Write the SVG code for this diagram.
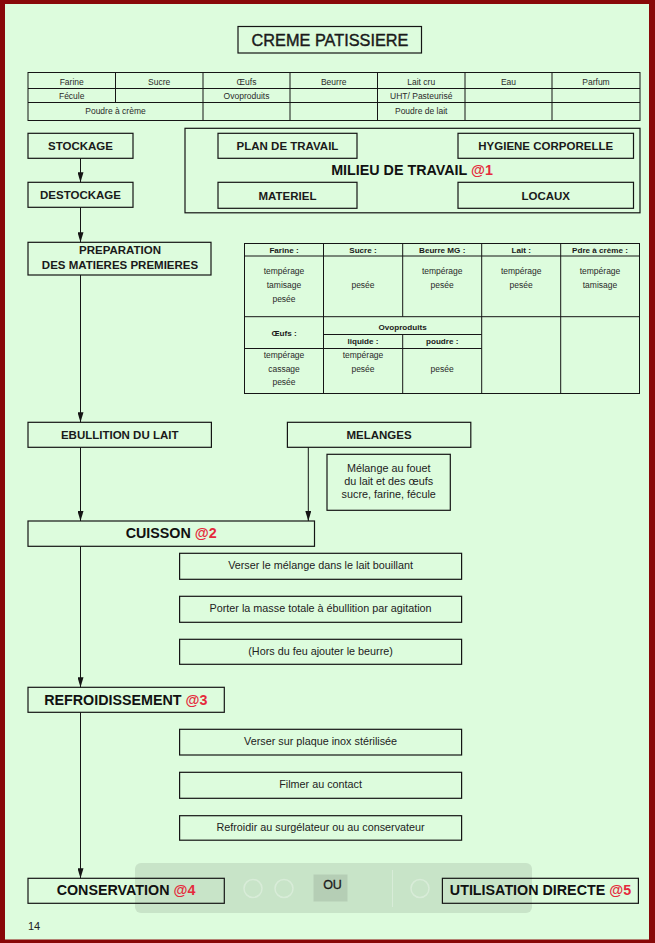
<svg xmlns="http://www.w3.org/2000/svg" width="655" height="943" viewBox="0 0 655 943">
<style>
.bx{fill:none;stroke:#151515;stroke-width:1.2}
.tb{fill:none;stroke:#151515;stroke-width:1}
.ln{stroke:#151515;stroke-width:1}
.lb{font-family:"Liberation Sans",Arial,sans-serif;font-weight:bold;font-size:11.5px;fill:#1a1a1a;text-anchor:middle}
.big{font-family:"Liberation Sans",Arial,sans-serif;font-weight:bold;font-size:14.3px;fill:#111;text-anchor:middle}
.sm{font-family:"Liberation Sans",Arial,sans-serif;font-size:8.5px;fill:#2a2a2a;text-anchor:middle}
.smb{font-family:"Liberation Sans",Arial,sans-serif;font-weight:bold;font-size:8.1px;fill:#1a1a1a;text-anchor:middle}
.st{font-family:"Liberation Sans",Arial,sans-serif;font-size:10.8px;fill:#222;text-anchor:middle}
.red{fill:#e52a3c}
.arr{stroke:#151515;stroke-width:1;fill:none;marker-end:url(#ah)}
</style>
<defs>
<marker id="ah" markerUnits="userSpaceOnUse" markerWidth="10" markerHeight="6" refX="10" refY="3" orient="auto">
<path d="M0,0 L10,3 L0,6 z" fill="#151515"/>
</marker>
</defs>
<rect x="0" y="0" width="655" height="943" fill="#880808"/>
<rect x="5" y="4" width="644" height="935.5" fill="#ddfcdd"/>

<!-- viewer overlay -->
<g id="overlay">
<rect x="135" y="863" width="397" height="50" rx="6" fill="#8a9a8a" opacity="0.25"/>
<rect x="313.5" y="874.5" width="34" height="27" fill="#8a9a8a" opacity="0.3"/>
<circle cx="253" cy="888.5" r="9" fill="none" stroke="#ffffff" stroke-opacity="0.3" stroke-width="1.5"/>
<circle cx="284" cy="888.5" r="9" fill="none" stroke="#ffffff" stroke-opacity="0.3" stroke-width="1.5"/>
<circle cx="420" cy="888.5" r="9" fill="none" stroke="#ffffff" stroke-opacity="0.3" stroke-width="1.5"/>
<line x1="392.5" y1="870" x2="392.5" y2="907" stroke="#ffffff" stroke-opacity="0.3"/>
</g>

<g id="title">
<rect class="bx" x="238" y="26.5" width="183.5" height="26.5"/>
<text x="330" y="45.5" font-family="Liberation Sans,Arial,sans-serif" font-size="16.3" fill="#1a1a1a" stroke="#1a1a1a" stroke-width="0.4" text-anchor="middle">CREME PATISSIERE</text>
</g>

<g id="ingredients">
<rect class="tb" x="28" y="72.5" width="612" height="48"/>
<line class="ln" x1="28" y1="88.5" x2="640" y2="88.5"/>
<line class="ln" x1="28" y1="102.5" x2="640" y2="102.5"/>
<line class="ln" x1="115.5" y1="72.5" x2="115.5" y2="102.5"/>
<line class="ln" x1="203" y1="72.5" x2="203" y2="120.5"/>
<line class="ln" x1="290" y1="72.5" x2="290" y2="120.5"/>
<line class="ln" x1="377.5" y1="72.5" x2="377.5" y2="120.5"/>
<line class="ln" x1="465" y1="72.5" x2="465" y2="120.5"/>
<line class="ln" x1="552" y1="72.5" x2="552" y2="120.5"/>
<text class="sm" x="71.7" y="85.3">Farine</text>
<text class="sm" x="159.2" y="85.3">Sucre</text>
<text class="sm" x="246.5" y="85.3">Œufs</text>
<text class="sm" x="333.7" y="85.3">Beurre</text>
<text class="sm" x="421.2" y="85.3">Lait cru</text>
<text class="sm" x="508.5" y="85.3">Eau</text>
<text class="sm" x="596" y="85.3">Parfum</text>
<text class="sm" x="71.7" y="98.5">Fécule</text>
<text class="sm" x="246.5" y="98.5">Ovoproduits</text>
<text class="sm" x="421.2" y="98.5">UHT/ Pasteurisé</text>
<text class="sm" x="115.5" y="113.8">Poudre à crème</text>
<text class="sm" x="421.2" y="113.8">Poudre de lait</text>
</g>

<g id="stockage">
<rect class="bx" x="28" y="133.3" width="105" height="25"/>
<text class="lb" x="80.5" y="150">STOCKAGE</text>
</g>
<g id="destockage">
<rect class="bx" x="28" y="182.3" width="105" height="25"/>
<text class="lb" x="80.5" y="199">DESTOCKAGE</text>
</g>

<g id="milieu">
<rect class="bx" x="185" y="128.3" width="455" height="84.5"/>
<text class="big" x="412" y="175.2" font-size="14">MILIEU DE TRAVAIL <tspan class="red">@1</tspan></text>
</g>
<g id="plan">
<rect class="bx" x="218" y="133.3" width="139" height="25"/>
<text class="lb" x="287.5" y="150">PLAN DE TRAVAIL</text>
</g>
<g id="hygiene">
<rect class="bx" x="458" y="133.3" width="175.5" height="25"/>
<text class="lb" x="545.7" y="150">HYGIENE CORPORELLE</text>
</g>
<g id="materiel">
<rect class="bx" x="218" y="182.3" width="139" height="26"/>
<text class="lb" x="287.5" y="199.5">MATERIEL</text>
</g>
<g id="locaux">
<rect class="bx" x="458" y="182.3" width="175.5" height="26"/>
<text class="lb" x="545.7" y="199.5">LOCAUX</text>
</g>

<g id="preparation">
<rect class="bx" x="28" y="242.3" width="183" height="32.7"/>
<text class="lb" x="120" y="254.3">PREPARATION</text>
<text class="lb" x="120" y="269.3">DES MATIERES PREMIERES</text>
</g>

<g id="prep-table">
<rect class="tb" x="244.5" y="243.5" width="395" height="150"/>
<line class="ln" x1="244.5" y1="256" x2="639.5" y2="256"/>
<line class="ln" x1="244.5" y1="316.7" x2="639.5" y2="316.7"/>
<line class="ln" x1="323.5" y1="243.5" x2="323.5" y2="393.5"/>
<line class="ln" x1="402.7" y1="243.5" x2="402.7" y2="316.7"/>
<line class="ln" x1="402.7" y1="334.5" x2="402.7" y2="393.5"/>
<line class="ln" x1="481.7" y1="243.5" x2="481.7" y2="393.5"/>
<line class="ln" x1="560.7" y1="243.5" x2="560.7" y2="393.5"/>
<line class="ln" x1="323.5" y1="334.5" x2="481.7" y2="334.5"/>
<line class="ln" x1="244.5" y1="348.5" x2="481.7" y2="348.5"/>
<text class="smb" x="284" y="252.7">Farine :</text>
<text class="smb" x="363" y="252.7">Sucre :</text>
<text class="smb" x="442.2" y="252.7">Beurre MG :</text>
<text class="smb" x="521.2" y="252.7">Lait :</text>
<text class="smb" x="600" y="252.7">Pdre à crème :</text>
<text class="sm" x="284" y="274.3">tempérage</text>
<text class="sm" x="284" y="288.3">tamisage</text>
<text class="sm" x="284" y="302.3">pesée</text>
<text class="sm" x="363" y="288.3">pesée</text>
<text class="sm" x="442.2" y="274.3">tempérage</text>
<text class="sm" x="442.2" y="288.3">pesée</text>
<text class="sm" x="521.2" y="274.3">tempérage</text>
<text class="sm" x="521.2" y="288.3">pesée</text>
<text class="sm" x="600" y="274.3">tempérage</text>
<text class="sm" x="600" y="288.3">tamisage</text>
<text class="smb" x="284" y="335.7">Œufs :</text>
<text class="smb" x="402.6" y="330">Ovoproduits</text>
<text class="smb" x="363" y="344.4">liquide :</text>
<text class="smb" x="442.2" y="344.4">poudre :</text>
<text class="sm" x="284" y="358.3">tempérage</text>
<text class="sm" x="284" y="371.7">cassage</text>
<text class="sm" x="284" y="385">pesée</text>
<text class="sm" x="363" y="358.3">tempérage</text>
<text class="sm" x="363" y="371.7">pesée</text>
<text class="sm" x="442.2" y="371.7">pesée</text>
</g>

<g id="ebullition">
<rect class="bx" x="28" y="422.3" width="183.4" height="25"/>
<text class="lb" x="119.7" y="439">EBULLITION DU LAIT</text>
</g>
<g id="melanges">
<rect class="bx" x="287.4" y="422.3" width="183.4" height="25"/>
<text class="lb" x="379" y="439">MELANGES</text>
</g>
<g id="melange-note">
<rect class="bx" x="327" y="454.3" width="123.3" height="56"/>
<text class="st" x="388.7" y="471.6" font-size="9.6">Mélange au fouet</text>
<text class="st" x="388.7" y="485" font-size="9.6">du lait et des œufs</text>
<text class="st" x="388.7" y="498.3" font-size="9.6">sucre, farine, fécule</text>
</g>

<g id="cuisson">
<rect class="bx" x="28" y="521" width="286.5" height="25.3"/>
<text class="big" x="171.2" y="538.4">CUISSON <tspan class="red">@2</tspan></text>
</g>
<g id="c1">
<rect class="bx" x="179.6" y="553.3" width="282" height="26"/>
<text class="st" x="320.6" y="569">Verser le mélange dans le lait bouillant</text>
</g>
<g id="c2">
<rect class="bx" x="179.6" y="596.3" width="282" height="26"/>
<text class="st" x="320.6" y="612.3">Porter la masse totale à ébullition par agitation</text>
</g>
<g id="c3">
<rect class="bx" x="179.6" y="639.3" width="282" height="25"/>
<text class="st" x="320.6" y="655">(Hors du feu ajouter le beurre)</text>
</g>

<g id="refroidissement">
<rect class="bx" x="28" y="687.3" width="196.3" height="25"/>
<text class="big" x="125.8" y="704.5">REFROIDISSEMENT <tspan class="red">@3</tspan></text>
</g>
<g id="r1">
<rect class="bx" x="179.6" y="729.3" width="282" height="25.7"/>
<text class="st" x="320.6" y="745">Verser sur plaque inox stérilisée</text>
</g>
<g id="r2">
<rect class="bx" x="179.6" y="772.3" width="282" height="26"/>
<text class="st" x="320.6" y="787.7">Filmer au contact</text>
</g>
<g id="r3">
<rect class="bx" x="179.6" y="815.7" width="282" height="24.5"/>
<text class="st" x="320.6" y="831.3">Refroidir au surgélateur ou au conservateur</text>
</g>

<g id="conservation">
<rect class="bx" x="28" y="878.3" width="196.3" height="25"/>
<text class="big" x="126" y="895.2">CONSERVATION <tspan class="red">@4</tspan></text>
</g>
<g id="ou">
<text x="332.5" y="888.8" font-family="Liberation Sans,Arial,sans-serif" font-size="12.5" fill="#1a1a1a" stroke="#1a1a1a" stroke-width="0.3" text-anchor="middle">OU</text>
</g>
<g id="utilisation">
<rect class="bx" x="442.4" y="878.3" width="196" height="25"/>
<text class="big" x="540.5" y="895.2" font-size="14.6">UTILISATION DIRECTE <tspan class="red">@5</tspan></text>
</g>

<g id="connectors">
<line class="arr" x1="80.5" y1="158.3" x2="80.5" y2="182.3"/>
<line class="arr" x1="80.5" y1="207.3" x2="80.5" y2="242.3"/>
<line class="arr" x1="80.5" y1="275" x2="80.5" y2="422.3"/>
<line class="arr" x1="80.5" y1="447.3" x2="80.5" y2="521"/>
<line class="arr" x1="308.3" y1="447.3" x2="308.3" y2="521"/>
<line class="arr" x1="80.5" y1="546.3" x2="80.5" y2="687.3"/>
<line class="arr" x1="80.5" y1="712.3" x2="80.5" y2="878.3"/>
</g>

<text x="34" y="930" font-family="Liberation Sans,Arial,sans-serif" font-size="11" fill="#222" text-anchor="middle">14</text>
</svg>
